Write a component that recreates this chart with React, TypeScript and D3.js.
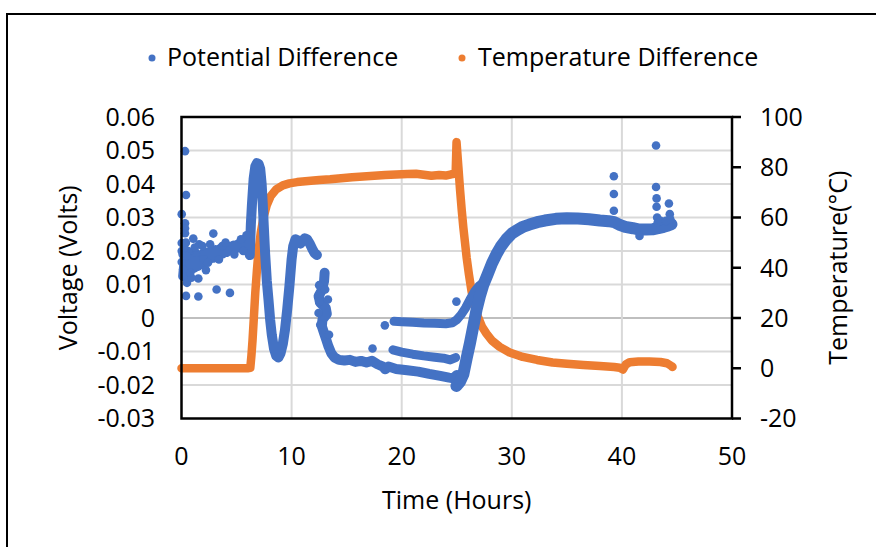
import React from "react";
import * as d3 from "d3";

const xTicks = [0, 10, 20, 30, 40, 50];
const vTicks = [-0.03, -0.02, -0.01, 0, 0.01, 0.02, 0.03, 0.04, 0.05, 0.06];
const tTicks = [-20, 0, 20, 40, 60, 80, 100];

// Potential Difference (hours, volts) - dense traces
const blueEarly: [number, number][] = [
  [0.15, 0.0125], [0.25, 0.016], [0.35, 0.013], [0.45, 0.0165], [0.55, 0.0135], [0.7, 0.017], [0.85, 0.0145],
  [1.0, 0.0175], [1.15, 0.015], [1.3, 0.018], [1.45, 0.0155], [1.6, 0.0185], [1.75, 0.016], [1.9, 0.019],
  [2.1, 0.017], [2.3, 0.0195], [2.5, 0.0175], [2.7, 0.0198], [2.9, 0.018], [3.1, 0.0203], [3.3, 0.0188],
  [3.5, 0.0206], [3.7, 0.0192], [3.9, 0.021], [4.1, 0.0197], [4.3, 0.0213], [4.5, 0.0202], [4.7, 0.0216],
  [4.9, 0.0207], [5.1, 0.0219], [5.3, 0.0212], [5.5, 0.0222], [5.7, 0.0216], [5.9, 0.0232], [6.05, 0.0215],
  [6.2, 0.0188], [6.3, 0.028], [6.4, 0.034], [6.55, 0.0415], [6.7, 0.0452], [6.85, 0.0462], [7.0, 0.046],
  [7.15, 0.0445], [7.28, 0.04], [7.38, 0.034], [7.48, 0.027], [7.6, 0.019], [7.75, 0.011], [7.9, 0.0055],
  [8.05, -0.0005], [8.2, -0.005], [8.4, -0.0092], [8.6, -0.0113], [8.8, -0.0118], [9.0, -0.0105],
  [9.2, -0.0078], [9.4, -0.0035], [9.6, 0.0025], [9.8, 0.0095], [10.0, 0.0175], [10.15, 0.0215],
  [10.35, 0.0235], [10.55, 0.0232], [10.8, 0.0222], [11.0, 0.023], [11.2, 0.0238], [11.4, 0.0235],
  [11.65, 0.0222], [11.9, 0.0205], [12.1, 0.0193], [12.3, 0.0188],
];
const blueLow: [number, number][] = [
  [13.0, 0.0135], [12.95, 0.011], [12.7, 0.008], [12.45, 0.0065], [12.6, 0.0045], [13.1, 0.003],
  [13.2, 0.0012], [12.8, -0.0005], [12.75, -0.0025], [12.95, -0.0045], [13.15, -0.0065], [13.35, -0.0085],
  [13.6, -0.0105], [13.9, -0.0118], [14.3, -0.0125], [14.8, -0.0127], [15.3, -0.0125], [15.8, -0.0131],
  [16.3, -0.0128], [16.8, -0.0133], [17.3, -0.0128], [17.8, -0.0138], [18.3, -0.0145], [18.5, -0.0153],
  [18.8, -0.0145], [19.5, -0.0152], [20.5, -0.0156], [21.5, -0.016], [22.5, -0.0167], [23.5, -0.0173],
  [24.3, -0.0178], [24.7, -0.018], [25.0, -0.017],
];
const blueMid: [number, number][] = [
  [19.2, -0.0095], [20.0, -0.0102], [21.0, -0.0108], [22.0, -0.0113], [23.0, -0.0117], [23.8, -0.012],
  [24.4, -0.0125], [24.9, -0.0118],
];
const blueUpper: [number, number][] = [
  [19.3, -0.001], [20.0, -0.0011], [21.0, -0.0013], [22.0, -0.0015], [23.0, -0.0016], [24.0, -0.0017],
  [24.6, -0.0014], [25.0, -0.0005], [25.4, 0.001], [25.8, 0.003], [26.2, 0.0055], [26.6, 0.0078],
  [27.0, 0.0095], [27.4, 0.0105],
];
const blueRise: [number, number][] = [
  [24.97, -0.0203], [25.3, -0.019], [25.6, -0.0168], [25.9, -0.012], [26.2, -0.0075], [26.5, -0.0025],
  [26.8, 0.0025], [27.1, 0.0065], [27.4, 0.0098], [27.8, 0.013], [28.2, 0.0163], [28.6, 0.019],
  [29.0, 0.0213], [29.5, 0.0235], [30.0, 0.0252], [30.5, 0.0263], [31.0, 0.0272], [31.6, 0.0279],
  [32.3, 0.0286], [33.0, 0.0291], [34.0, 0.0296], [35.0, 0.0298], [36.0, 0.0297], [37.0, 0.0295],
  [38.0, 0.0291], [38.8, 0.0289], [39.3, 0.0286], [39.8, 0.0278], [40.3, 0.0272], [41.0, 0.0268],
  [41.6, 0.0264], [42.2, 0.0264], [42.8, 0.0265], [43.3, 0.0268], [43.8, 0.0272], [44.2, 0.0276],
  [44.5, 0.028],
];
const blueScatter: [number, number][] = [
  [0.32, 0.0498], [0.41, 0.0367], [0.02, 0.031], [0.32, 0.0283], [0.32, 0.0268], [0.32, 0.0253],
  [0.02, 0.0224], [0.02, 0.02], [0.02, 0.0167], [0.1, 0.019], [1.07, 0.0237], [1.6, 0.022], [2.89, 0.0252],
  [2.22, 0.0143], [1.53, 0.0118], [3.19, 0.0085], [4.4, 0.0075], [0.41, 0.0066], [1.53, 0.0064],
  [5.9, 0.0247], [17.35, -0.0091], [18.47, -0.0022], [24.97, 0.0049], [39.27, 0.0423], [39.27, 0.037],
  [39.27, 0.032], [43.1, 0.0515], [43.1, 0.0391], [43.15, 0.0357], [43.15, 0.0332], [44.27, 0.0342],
  [44.35, 0.031], [41.6, 0.0245], [12.5, 0.0048], [13.3, 0.0055], [12.45, 0.0015], [12.5, 0.0098],
  [2.0, 0.0175], [3.7, 0.0215], [1.3, 0.0195], [43.2, 0.03], [43.25, 0.0285], [43.5, 0.029],
  [44.0, 0.029], [44.4, 0.0295], [0.5, 0.0105], [0.7, 0.0195], [0.9, 0.012], [1.2, 0.021], [0.6, 0.02],
  [0.25, 0.021], [0.15, 0.0145], [0.4, 0.0225], [0.5, 0.0185], [0.8, 0.0135], [1.9, 0.0215],
  [2.4, 0.0165], [2.6, 0.022], [3.4, 0.0175], [4.0, 0.0225], [4.8, 0.019], [5.4, 0.0235], [5.6, 0.02],
  [13.05, 0.0085], [12.6, -0.002], [13.4, -0.005],
];

// Temperature Difference (hours, °C)
const orangeSeries: [number, number][] = [
  [0, 0], [1, 0], [2, 0], [3, 0], [4, 0], [5, 0], [6, 0], [6.25, 0.2], [6.35, 5], [6.45, 11], [6.57, 20],
  [6.7, 30], [6.85, 39], [7.0, 47], [7.2, 54], [7.45, 60], [7.75, 65], [8.1, 68.5], [8.6, 71.2], [9.2, 72.8],
  [9.8, 73.6], [10.5, 74.1], [11.5, 74.5], [12.5, 74.9], [13.5, 75.2], [14.5, 75.6], [15.5, 76], [16.5, 76.3],
  [17.5, 76.6], [18.5, 76.9], [19.5, 77.1], [20.5, 77.3], [21.3, 77.4], [22, 77], [22.7, 76.6], [23.4, 76.9],
  [24.0, 76.7], [24.5, 77.2], [24.9, 77.5], [24.98, 90], [25.15, 80], [25.3, 71], [25.45, 63], [25.6, 56],
  [25.75, 50], [25.9, 44], [26.1, 37.5], [26.33, 31], [26.6, 25], [26.93, 20.5], [27.3, 16.5], [27.7, 13.8],
  [28.2, 11], [28.9, 8.5], [29.8, 6.3], [31, 4.5], [32.3, 3.3], [33.7, 2.3], [35, 1.8], [36.5, 1.3], [38, 0.9],
  [39.3, 0.5], [39.8, 0.2], [40.1, -0.5], [40.35, 1.5], [40.7, 2.4], [41.5, 2.7], [42.5, 2.7], [43.5, 2.5],
  [44.1, 2.0], [44.5, 0.9], [44.6, 0.5],
];

const BLUE = "#4472C4";
const ORANGE = "#ED7D31";
const FONT = "'Open Sans', sans-serif";
const FS = 25;

export default function App() {
  const L = 181.5, R = 732, T = 117, B = 418.5;
  const x = d3.scaleLinear().domain([0, 50]).range([L, R]);
  const yV = d3.scaleLinear().domain([-0.03, 0.06]).range([B, T]);
  const yT = d3.scaleLinear().domain([-20, 100]).range([B, T]);

  const lineV = d3.line<[number, number]>().x((d) => x(d[0])).y((d) => yV(d[1]));
  const lineT = d3.line<[number, number]>().x((d) => x(d[0])).y((d) => yT(d[1]));

  const blueSegs: { pts: [number, number][]; w: number }[] = [
    { pts: blueEarly, w: 10 },
    { pts: blueLow, w: 10 },
    { pts: blueMid, w: 9 },
    { pts: blueUpper, w: 9 },
    { pts: blueRise, w: 12 },
  ];
  const fmtV = (v: number) => (Math.abs(v) < 1e-9 ? "0" : v.toFixed(2));

  return (
    <svg
      width={876}
      height={547}
      style={{ position: "absolute", left: 0, top: 0, background: "#fff" }}
      fontFamily={FONT}
    >
      <rect x={0} y={0} width={876} height={547} fill="#fff" />
      <rect x={7} y={14} width={900} height={600} fill="none" stroke="#000" strokeWidth={2} />

      {/* gridlines */}
      {vTicks.filter((v) => v > -0.03 && v < 0.06).map((v) => (
        <line key={"h" + v} x1={L} x2={R} y1={yV(v)} y2={yV(v)}
          stroke={Math.abs(v) < 1e-9 ? "#bfbfbf" : "#d9d9d9"} strokeWidth={2} />
      ))}
      {xTicks.filter((t) => t > 0 && t < 50).map((t) => (
        <line key={"v" + t} x1={x(t)} x2={x(t)} y1={T} y2={B} stroke="#d9d9d9" strokeWidth={2} />
      ))}

      {/* temperature */}
      <path d={lineT(orangeSeries) || ""} fill="none" stroke={ORANGE} strokeWidth={8.5}
        strokeLinecap="round" strokeLinejoin="round" />

      {/* potential */}
      {blueSegs.map((s, i) => (
        <path key={"b" + i} d={lineV(s.pts) || ""} fill="none" stroke={BLUE} strokeWidth={s.w}
          strokeLinecap="round" strokeLinejoin="round" />
      ))}
      {blueScatter.map((d, i) => (
        <circle key={"s" + i} cx={x(d[0])} cy={yV(d[1])} r={4.3} fill={BLUE} />
      ))}

      {/* plot border */}
      <rect x={L} y={T} width={R - L} height={B - T} fill="none" stroke="#000" strokeWidth={2.5} />
      {tTicks.map((t) => (
        <line key={"tt" + t} x1={R} x2={R + 9} y1={yT(t)} y2={yT(t)} stroke="#000" strokeWidth={2.5} />
      ))}

      {/* left tick labels */}
      {vTicks.map((v) => (
        <text key={"vl" + v} x={155} y={yV(v)} dy="0.35em" textAnchor="end" fontSize={FS} fill="#000">
          {fmtV(v)}
        </text>
      ))}
      {/* right tick labels */}
      {tTicks.map((t) => (
        <text key={"tl" + t} x={760} y={yT(t)} dy="0.35em" textAnchor="start" fontSize={FS} fill="#000">
          {t}
        </text>
      ))}
      {/* bottom tick labels */}
      {xTicks.map((t) => (
        <text key={"xl" + t} x={x(t)} y={456} dy="0.35em" textAnchor="middle" fontSize={FS} fill="#000">
          {t}
        </text>
      ))}

      {/* axis titles */}
      <text x={(L + R) / 2} y={500} dy="0.35em" textAnchor="middle" fontSize={FS} fill="#000">
        Time (Hours)
      </text>
      <text transform={`translate(68,${(T + B) / 2}) rotate(-90)`} dy="0.35em" textAnchor="middle" fontSize={FS} fill="#000">
        Voltage (Volts)
      </text>
      <text transform={`translate(838,${(T + B) / 2}) rotate(-90)`} dy="0.35em" textAnchor="middle" fontSize={FS} fill="#000">
        Temperature(°C)
      </text>

      {/* legend */}
      <circle cx={152} cy={58} r={3.5} fill={BLUE} />
      <text x={167} y={57} dy="0.35em" fontSize={FS} fill="#000">Potential Difference</text>
      <circle cx={462} cy={58} r={3.5} fill={ORANGE} />
      <text x={478} y={57} dy="0.35em" fontSize={FS} fill="#000">Temperature Difference</text>
    </svg>
  );
}
